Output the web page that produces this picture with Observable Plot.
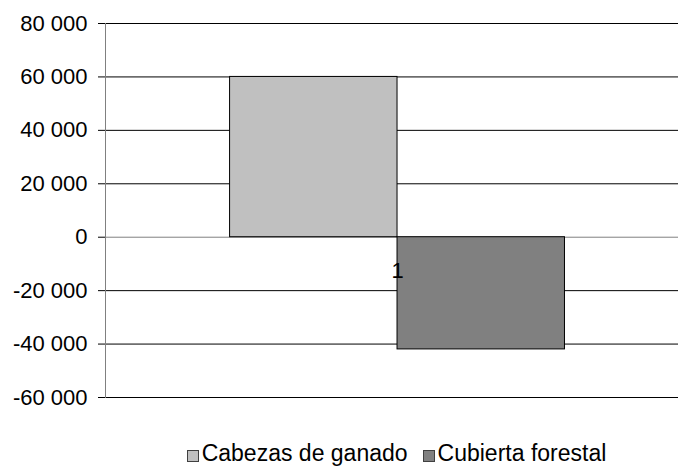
<!DOCTYPE html>
<html>
<head>
<meta charset="utf-8">
<script src="https://cdn.jsdelivr.net/npm/d3@7"></script>
<script src="https://cdn.jsdelivr.net/npm/@observablehq/plot@0.6"></script>
<style>
  html, body { margin: 0; padding: 0; background: #fff; }
  #chart { width: 678px; }
  .legend { height: 26px; line-height: 26px; font: 23px "Liberation Sans", Arial, sans-serif; color: #000; text-align: center; padding-left: 115px; width: 563px; white-space: nowrap; }
  .legend .item { display: inline-block; }
  .legend .sw { display: inline-block; width: 10px; height: 10px; border: 1px solid #404040; vertical-align: -1px; margin-right: 3px; }
</style>
</head>
<body>
<div id="chart"></div>
<script>
const categories = ["1"];
const seriesNames = ["Cabezas de ganado", "Cubierta forestal"];
const values = [60000, -42000];
const yTicks = [-60000, -40000, -20000, 0, 20000, 40000, 60000, 80000];
const colors = ["#C0C0C0", "#808080"];

const fmt = d3.formatLocale({decimal: ",", thousands: " ", grouping: [3], currency: ["", ""], minus: "-"}).format(",d");

const barWidth = 0.5; // in category units
const bars = [];
categories.forEach((c, ci) => {
  seriesNames.forEach((s, si) => {
    const center = ci + 1;
    const x1 = center - barWidth + si * barWidth;
    bars.push({category: c, series: s, value: values[si], x1, x2: x1 + barWidth});
  });
});
const catLabels = categories.map((c, i) => ({label: c, x: i + 1}));

const font = '"Liberation Sans", Arial, sans-serif';
const chart = Plot.plot({
  width: 678,
  height: 440,
  marginLeft: 105,
  marginRight: 0,
  marginTop: 23,
  marginBottom: 43,
  style: {fontFamily: font, fontSize: "22px", color: "#000", background: "#fff"},
  x: {type: "linear", domain: [0.128, 1.839], axis: null},
  y: {domain: [-60000, 80000], ticks: yTicks, tickFormat: fmt, tickSize: 7, tickPadding: 11, label: null},
  color: {domain: seriesNames, range: colors},
  marks: [
    Plot.ruleY(yTicks.filter(d => d !== 0), {stroke: "#000", strokeWidth: 1}),
    Plot.ruleY([0], {stroke: "#808080", strokeWidth: 1}),
    Plot.rectY(bars, {x1: "x1", x2: "x2", y1: 0, y2: "value", fill: "series", stroke: "#000", strokeWidth: 1, inset: 0}),
    Plot.axisY({ticks: yTicks, tickFormat: fmt, tickSize: 7, tickPadding: 11, stroke: "#000", fontSize: 22, label: null}),
    Plot.frame({anchor: "left", stroke: "#808080"}),
    Plot.text(catLabels, {x: "x", y: 0, text: "label", dy: 33.5, lineAnchor: "middle", fontSize: 22, fill: "#000"})
  ]
});
document.getElementById("chart").appendChild(chart);

const legend = document.createElement("div");
legend.className = "legend";
seriesNames.forEach((s, i) => {
  const item = document.createElement("span");
  item.className = "item";
  if (i > 0) item.style.marginLeft = "15px";
  const sw = document.createElement("span");
  sw.className = "sw";
  sw.style.background = colors[i];
  item.appendChild(sw);
  item.appendChild(document.createTextNode(s));
  legend.appendChild(item);
});
document.getElementById("chart").appendChild(legend);
</script>
</body>
</html>
